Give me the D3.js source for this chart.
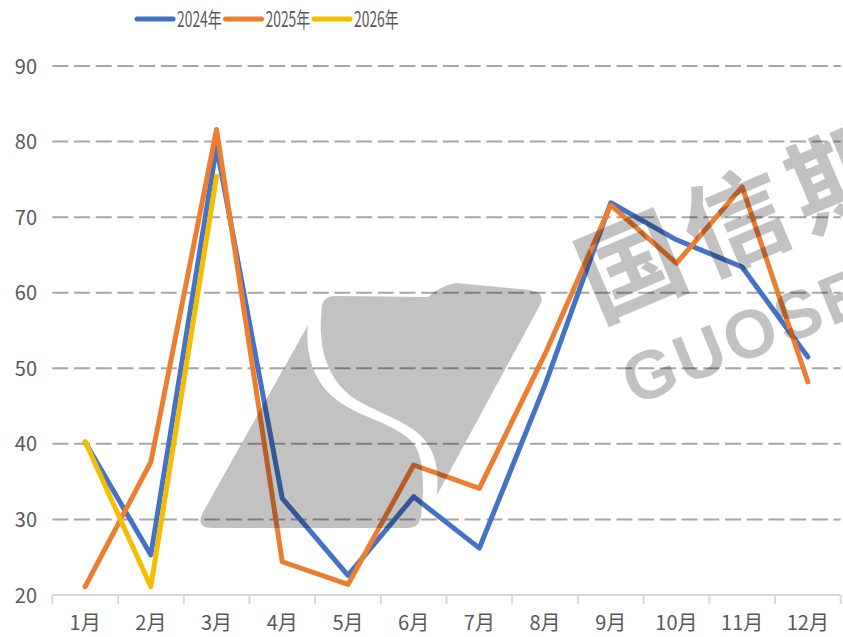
<!DOCTYPE html>
<html>
<head>
<meta charset="utf-8">
<script src="https://cdn.jsdelivr.net/npm/d3@7/dist/d3.min.js"></script>
<style>
  html, body { margin: 0; padding: 0; background: #fff; }
  svg { display: block; }
</style>
</head>
<body>
<svg id="chart" width="843" height="637"></svg>
<script>
// Monthly index values by year
const months = ["1月","2月","3月","4月","5月","6月","7月","8月","9月","10月","11月","12月"];
const series2024 = [40.2, 25.3, 79.3, 32.8, 22.6, 33.0, 26.2, 47.8, 71.9, 67.0, 63.4, 51.5];
const series2025 = [21.1, 37.6, 81.6, 24.4, 21.4, 37.2, 34.1, 51.9, 71.6, 63.9, 74.0, 48.2];
const series2026 = [40.3, 21.1, 75.4];
const seriesNames = ["2024年", "2025年", "2026年"];
const seriesColors = ["#4472C4", "#ED7D31", "#F5BD00"];
const yTicks = [20, 30, 40, 50, 60, 70, 80, 90];

const svg = d3.select("#chart");
const plotLeft = 52.3, plotRight = 840.7, plotTop = 66, plotBottom = 595;

const x = d3.scaleBand().domain(months).range([plotLeft, plotRight]).padding(0);
const y = d3.scaleLinear().domain([20, 90]).range([plotBottom, plotTop]);

const labelFont = "'Noto Sans CJK SC', 'Noto Sans', sans-serif";
const textColor = "#595959";

// Horizontal dashed gridlines
svg.append("g")
  .selectAll("line")
  .data(yTicks.filter(d => d > 20))
  .join("line")
  .attr("x1", plotLeft).attr("x2", plotRight)
  .attr("y1", d => y(d)).attr("y2", d => y(d))
  .attr("stroke", "#a6a6a6")
  .attr("stroke-width", 2)
  .attr("stroke-dasharray", "16,5.7");

// Y axis labels
const yAxis = d3.axisLeft(y).tickValues(yTicks).tickSize(0).tickPadding(0);
const yg = svg.append("g").attr("transform", `translate(37,0)`).call(yAxis);
yg.select(".domain").remove();
yg.selectAll("text")
  .attr("fill", textColor)
  .attr("font-family", labelFont)
  .attr("font-size", 20)
  .attr("dy", "0.35em");

// X axis with category boundary ticks
const xg = svg.append("g").attr("transform", `translate(0,${plotBottom})`);
xg.append("line")
  .attr("x1", plotLeft).attr("x2", plotRight)
  .attr("stroke", "#d9d9d9").attr("stroke-width", 2);
const bounds = months.map(m => x(m)).concat([plotRight]);
xg.selectAll("line.tick")
  .data(bounds)
  .join("line")
  .attr("class", "tick")
  .attr("x1", d => d).attr("x2", d => d)
  .attr("y1", 0).attr("y2", 9)
  .attr("stroke", "#d9d9d9").attr("stroke-width", 2);
xg.selectAll("text")
  .data(months)
  .join("text")
  .attr("x", d => x(d) + x.bandwidth() / 2)
  .attr("y", 35)
  .attr("text-anchor", "middle")
  .attr("fill", textColor)
  .attr("font-family", labelFont)
  .attr("font-size", 20)
  .text(d => d);

// Data lines
const line = d3.line()
  .x((d, i) => x(months[i]) + x.bandwidth() / 2)
  .y(d => y(d));

[series2024, series2025, series2026].forEach((s, i) => {
  svg.append("path")
    .datum(s)
    .attr("d", line)
    .attr("fill", "none")
    .attr("stroke", seriesColors[i])
    .attr("stroke-width", 5)
    .attr("stroke-linejoin", "round")
    .attr("stroke-linecap", "round");
});

// Company watermark drawn over the plot
const wm = svg.append("g")
  .style("mix-blend-mode", "multiply")
  .attr("fill", "#c2c2c2");
wm.append("path")
  .attr("d", "M308,325 C305,350 312,382 337,400 C360,418 398,424 414,444 C423,458 423,476 423,493 L421,517 Q419,528 407,528 L212,528 Q196,528 202,514 Z");
wm.append("path")
  .attr("d", "M322,305 Q324,296 336,296 L428,297 Q440,286 456,283 L530,290 Q546,293 540,305 L437,495 C439,470 436,452 422,437 C404,418 362,408 346,392 C323,370 318,340 322,305 Z");
wm.append("text")
  .attr("transform", "translate(598,322) rotate(-23)")
  .attr("font-family", "'Noto Sans CJK SC', sans-serif")
  .attr("font-weight", 700)
  .attr("font-size", 104)
  .attr("letter-spacing", 10)
  .text("国信期货");
wm.append("text")
  .attr("transform", "translate(634,406) rotate(-22)")
  .attr("font-family", "'Liberation Sans', Arial, sans-serif")
  .attr("font-weight", 700)
  .attr("font-size", 68)
  .attr("letter-spacing", 3)
  .text("GUOSEN FUTURES");

// Legend
const legend = svg.append("g").attr("transform", "translate(137,19)");
seriesNames.forEach((name, i) => {
  const g = legend.append("g").attr("transform", `translate(${i * 88.5},0)`);
  g.append("line")
    .attr("x1", 0).attr("x2", 36)
    .attr("stroke", seriesColors[i])
    .attr("stroke-width", 5)
    .attr("stroke-linecap", "round");
  g.append("text")
    .attr("transform", "translate(40,8) scale(0.66,1)")
    .attr("fill", textColor)
    .attr("font-family", labelFont)
    .attr("font-size", 21)
    .text(name);
});
</script>
</body>
</html>
